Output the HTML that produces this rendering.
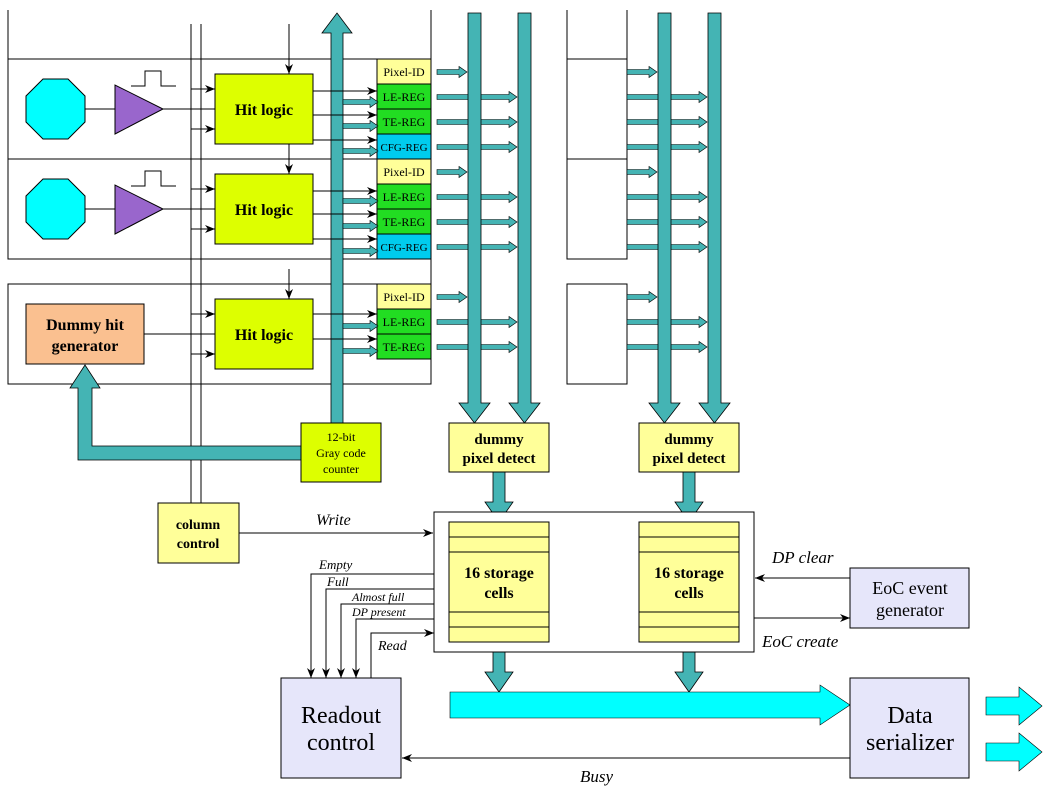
<!DOCTYPE html>
<html><head><meta charset="utf-8"><style>
html,body{margin:0;padding:0;background:#fff}
svg{display:block}
text{font-family:"Liberation Serif",serif}
</style></head><body>
<svg width="1051" height="799" viewBox="0 0 1051 799" xmlns="http://www.w3.org/2000/svg">
<defs>
<marker id="ah" markerWidth="10" markerHeight="8" refX="10" refY="4" orient="auto" markerUnits="userSpaceOnUse"><path d="M0,0 L10,4 L0,8 L3,4Z" fill="#000"/></marker>
<symbol id="a30" overflow="visible"><path d="M0,-2.5 H22 V-5.5 L30,0 L22,5.5 V2.5 H0Z" fill="#44b4b4" stroke="#000" stroke-width="0.6"/></symbol>
<symbol id="a80" overflow="visible"><path d="M0,-2.5 H72 V-5.5 L80,0 L72,5.5 V2.5 H0Z" fill="#44b4b4" stroke="#000" stroke-width="0.6"/></symbol>
<symbol id="a35" overflow="visible"><path d="M0,-2.5 H27 V-5.5 L35,0 L27,5.5 V2.5 H0Z" fill="#44b4b4" stroke="#000" stroke-width="0.6"/></symbol>
</defs>
<g fill="none" stroke="#000" stroke-width="1">
<!-- frames left -->
<path d="M8,10 V259 M431,10 V384"/>
<rect x="8" y="59" width="423" height="100"/>
<rect x="8" y="159" width="423" height="100"/>
<rect x="8" y="284" width="423" height="100"/>
<!-- right column frames -->
<path d="M567,10 V59 M627,10 V59"/>
<rect x="567" y="59" width="60" height="100"/>
<rect x="567" y="159" width="60" height="100"/>
<rect x="567" y="284" width="60" height="100"/>
<!-- column control lines -->
<path d="M191,24 V503 M201,24 V503"/>
</g>
<rect x="8.5" y="59.5" width="0" height="0"/>
<!-- pixel cells -->
<g stroke="#000" stroke-width="1">
<polygon points="43,79 68,79 85,96 85,122 68,139 43,139 26,122 26,96" fill="#00ffff"/>
<polygon points="43,179 68,179 85,196 85,222 68,239 43,239 26,222 26,196" fill="#00ffff"/>
<polygon points="115,85 115,134 163,109" fill="#9966cc"/>
<polygon points="115,185 115,234 163,209" fill="#9966cc"/>
<path d="M85,109 H115 M163,109 H215 M85,209 H115 M163,209 H215 M144,334 H215" fill="none"/>
<path d="M131,86 H145 V71 H161 V86 H176 M131,186 H145 V171 H161 V186 H176" fill="none"/>
<rect x="26" y="304" width="118" height="60" fill="#fac090"/>
<rect x="215" y="74" width="98" height="70" fill="#ddff00"/>
<rect x="215" y="174" width="98" height="70" fill="#ddff00"/>
<rect x="215" y="299" width="98" height="70" fill="#ddff00"/>
</g>
<g stroke="#000" stroke-width="1" marker-end="url(#ah)">
<path d="M191,89 H215"/><path d="M191,129 H215"/>
<path d="M191,189 H215"/><path d="M191,229 H215"/>
<path d="M191,314 H215"/><path d="M191,354 H215"/>
<path d="M289,24 V74"/><path d="M289,144 V174"/><path d="M289,269 V299"/>
</g>
<!-- registers -->
<g stroke="#000" stroke-width="1" font-size="12">
<rect x="377" y="59" width="54" height="25" fill="#ffff99"/>
<rect x="377" y="84" width="54" height="25" fill="#22dd22"/>
<rect x="377" y="109" width="54" height="25" fill="#22dd22"/>
<rect x="377" y="134" width="54" height="25" fill="#00ccee"/>
<rect x="377" y="159" width="54" height="25" fill="#ffff99"/>
<rect x="377" y="184" width="54" height="25" fill="#22dd22"/>
<rect x="377" y="209" width="54" height="25" fill="#22dd22"/>
<rect x="377" y="234" width="54" height="25" fill="#00ccee"/>
<rect x="377" y="284" width="54" height="25" fill="#ffff99"/>
<rect x="377" y="309" width="54" height="25" fill="#22dd22"/>
<rect x="377" y="334" width="54" height="25" fill="#22dd22"/>
</g>
<g font-size="12" text-anchor="middle" fill="#000">
<text x="404" y="76">Pixel-ID</text><text x="404" y="101">LE-REG</text><text x="404" y="126">TE-REG</text><text x="404" y="151" font-size="11">CFG-REG</text>
<text x="404" y="176">Pixel-ID</text><text x="404" y="201">LE-REG</text><text x="404" y="226">TE-REG</text><text x="404" y="251" font-size="11">CFG-REG</text>
<text x="404" y="301">Pixel-ID</text><text x="404" y="326">LE-REG</text><text x="404" y="351">TE-REG</text>
</g>
<!-- reg to bus arrows -->
<use href="#a30" x="437" y="72"/><use href="#a80" x="437" y="97"/><use href="#a80" x="437" y="122"/><use href="#a80" x="437" y="147"/>
<use href="#a30" x="437" y="172"/><use href="#a80" x="437" y="197"/><use href="#a80" x="437" y="222"/><use href="#a80" x="437" y="247"/>
<use href="#a30" x="437" y="297"/><use href="#a80" x="437" y="322"/><use href="#a80" x="437" y="347"/>
<use href="#a30" x="627" y="72"/><use href="#a80" x="627" y="97"/><use href="#a80" x="627" y="122"/><use href="#a80" x="627" y="147"/>
<use href="#a30" x="627" y="172"/><use href="#a80" x="627" y="197"/><use href="#a80" x="627" y="222"/><use href="#a80" x="627" y="247"/>
<use href="#a30" x="627" y="297"/><use href="#a80" x="627" y="322"/><use href="#a80" x="627" y="347"/>
<!-- vertical buses -->
<g fill="#44b4b4" stroke="#000" stroke-width="0.8">
<path d="M468,13 H481 V403 H490 L474.5,423 L459,403 H468Z"/>
<path d="M518,13 H531 V403 H540 L524.5,423 L509,403 H518Z"/>
<path d="M658,13 H671 V403 H680 L664.5,423 L649,403 H658Z"/>
<path d="M708,13 H721 V403 H730 L714.5,423 L699,403 H708Z"/>
<!-- gray code bus -->
<path d="M331,423 V33 H322 L337,13 L352,33 H343 V423Z"/>
<!-- to dummy hit -->
<path d="M301,446 H92 V388 H100 L85,365 L70,388 H78 V460 H301Z"/>
<!-- dummy->storage -->
<path d="M493,472 H505 V502 H513 L499,522 L485,502 H493Z"/>
<path d="M683,472 H695 V502 H703 L689,522 L675,502 H683Z"/>
<path d="M493,642 H505 V672 H513 L499,692 L485,672 H493Z"/>
<path d="M683,642 H695 V672 H703 L689,692 L675,672 H683Z"/>
</g>
<!-- bus to registers -->
<use href="#a35" x="343" y="102"/><use href="#a35" x="343" y="126"/><use href="#a35" x="343" y="151"/>
<use href="#a35" x="343" y="201"/><use href="#a35" x="343" y="226"/><use href="#a35" x="343" y="251"/>
<use href="#a35" x="343" y="326"/><use href="#a35" x="343" y="351"/>
<g stroke="#000" stroke-width="1" marker-end="url(#ah)">
<path d="M313,91 H377"/><path d="M313,115 H377"/><path d="M313,140 H377"/>
<path d="M313,191 H377"/><path d="M313,214 H377"/><path d="M313,239 H377"/>
<path d="M313,314 H377"/><path d="M313,339 H377"/>
</g>
<g font-weight="bold" font-size="16" text-anchor="middle" fill="#000">
<text x="264" y="115">Hit logic</text><text x="264" y="215">Hit logic</text><text x="264" y="340">Hit logic</text>
<text x="85" y="330">Dummy hit</text><text x="85" y="351">generator</text>
</g>
<!-- counter -->
<rect x="301" y="423" width="80" height="59" fill="#ddff00" stroke="#000"/>
<g font-size="12" text-anchor="middle"><text x="341" y="441">12-bit</text><text x="341" y="457">Gray code</text><text x="341" y="473">counter</text></g>
<!-- dummy pixel detect -->
<g stroke="#000" fill="#ffff99">
<rect x="449" y="423" width="100" height="49"/><rect x="639" y="423" width="100" height="49"/>
</g>
<g font-weight="bold" font-size="15" text-anchor="middle">
<text x="499" y="444">dummy</text><text x="499" y="463">pixel detect</text>
<text x="689" y="444">dummy</text><text x="689" y="463">pixel detect</text>
</g>
<!-- column control -->
<rect x="158" y="503" width="81" height="60" fill="#ffff99" stroke="#000"/>
<g font-weight="bold" font-size="14" text-anchor="middle"><text x="198" y="529">column</text><text x="198" y="548">control</text></g>
<!-- storage -->
<rect x="434" y="512" width="320" height="140" fill="#fff" stroke="#000"/>
<g stroke="#000" fill="#ffff99">
<rect x="449" y="522" width="100" height="120"/><rect x="639" y="522" width="100" height="120"/>
</g>
<path d="M449,537 H549 M449,552 H549 M449,612 H549 M449,627 H549 M639,537 H739 M639,552 H739 M639,612 H739 M639,627 H739" stroke="#000"/>
<g font-weight="bold" font-size="16" text-anchor="middle">
<text x="499" y="578">16 storage</text><text x="499" y="598">cells</text>
<text x="689" y="578">16 storage</text><text x="689" y="598">cells</text>
</g>
<!-- signals -->
<g stroke="#000" fill="none" stroke-width="1">
<path d="M239,533 H433" marker-end="url(#ah)"/>
<path d="M434,574 H311 V678" marker-end="url(#ah)"/>
<path d="M434,589 H326 V678" marker-end="url(#ah)"/>
<path d="M434,604 H341 V678" marker-end="url(#ah)"/>
<path d="M434,619 H356 V678" marker-end="url(#ah)"/>
<path d="M371,678 V633 H434" marker-end="url(#ah)"/>
<path d="M850,578 H755" marker-end="url(#ah)"/>
<path d="M754,618 H850" marker-end="url(#ah)"/>
<path d="M850,758 H402" marker-end="url(#ah)"/>
</g>
<g font-style="italic" fill="#000">
<text x="316" y="525" font-size="16">Write</text>
<text x="319" y="569" font-size="13">Empty</text>
<text x="327" y="586" font-size="13">Full</text>
<text x="352" y="601" font-size="12">Almost full</text>
<text x="352" y="616" font-size="12">DP present</text>
<text x="378" y="650" font-size="14">Read</text>
<text x="772" y="563" font-size="17">DP clear</text>
<text x="762" y="647" font-size="17">EoC create</text>
<text x="580" y="782" font-size="17">Busy</text>
</g>
<!-- big cyan bus -->
<path d="M450,692 H820 V685 L850,705 L820,725 V718 H450Z" fill="#00ffff" stroke="#000" stroke-width="0.6"/>
<path d="M986,697 H1019 V687 L1042,706 L1019,725 V715 H986Z" fill="#00ffff" stroke="#000" stroke-width="0.6"/>
<path d="M986,743 H1019 V733 L1042,752 L1019,771 V761 H986Z" fill="#00ffff" stroke="#000" stroke-width="0.6"/>
<!-- blocks -->
<g stroke="#000" fill="#e6e6fa">
<rect x="281" y="678" width="120" height="100"/>
<rect x="850" y="568" width="119" height="60"/>
<rect x="850" y="678" width="119" height="100"/>
</g>
<g text-anchor="middle" fill="#000">
<text x="341" y="723" font-size="24">Readout</text><text x="341" y="750" font-size="24">control</text>
<text x="910" y="594" font-size="18">EoC event</text><text x="910" y="616" font-size="18">generator</text>
<text x="910" y="723" font-size="24">Data</text><text x="910" y="750" font-size="24">serializer</text>
</g>
</svg>
</body></html>
